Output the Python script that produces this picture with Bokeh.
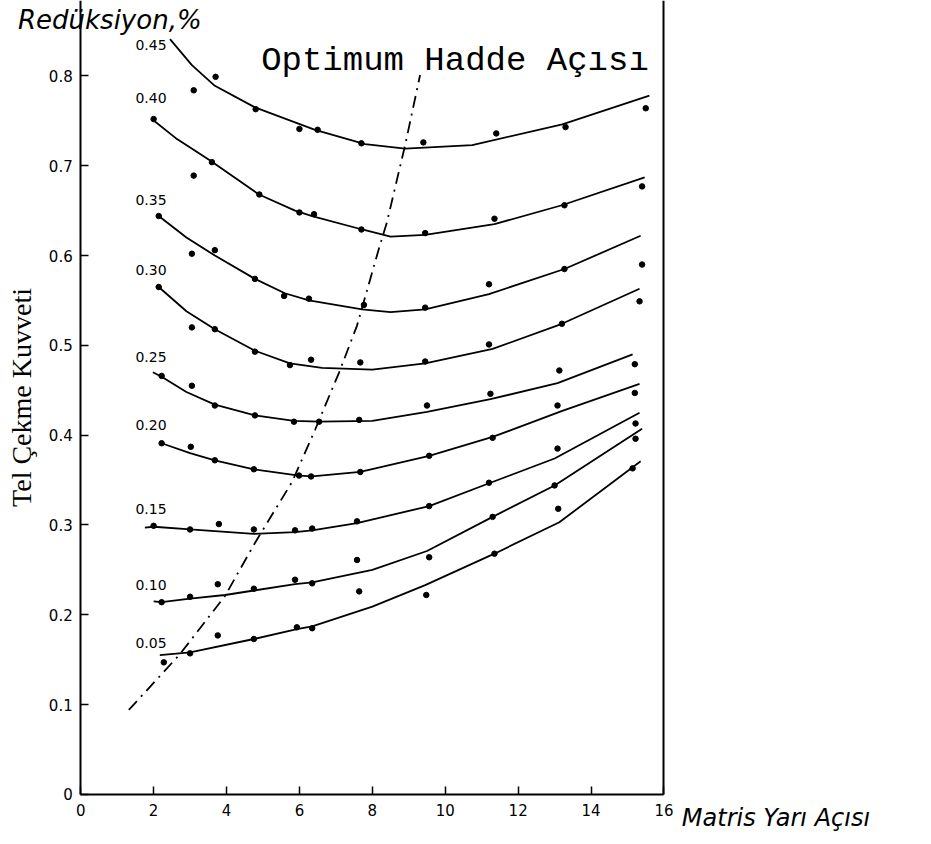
from bokeh.plotting import figure
from bokeh.models import LinearAxis, FixedTicker, Label
from bokeh.embed import file_html
from bokeh.resources import INLINE

# ---------------- data ----------------
reductions = ["0.05", "0.10", "0.15", "0.20", "0.25", "0.30", "0.35", "0.40", "0.45"]

c45_x = [2.45, 3.05, 3.68, 4.78, 6.43, 7.8, 8.9, 10.74, 13.21, 15.6]
c45_y = [0.841, 0.812, 0.789, 0.765, 0.740, 0.724, 0.719, 0.723, 0.746, 0.778]
p45_x = [3.1, 3.7, 4.8, 6.0, 6.5, 7.7, 9.4, 11.4, 13.3, 15.5]
p45_y = [0.784, 0.799, 0.763, 0.741, 0.740, 0.725, 0.726, 0.736, 0.743, 0.764]

c40_x = [1.95, 2.6, 3.54, 4.89, 5.88, 6.35, 7.72, 8.5, 9.45, 11.35, 13.2, 15.47]
c40_y = [0.752, 0.731, 0.706, 0.668, 0.650, 0.644, 0.629, 0.621, 0.623, 0.635, 0.656, 0.687]
p40_x = [2.0, 3.1, 3.6, 4.9, 6.0, 6.4, 7.7, 9.45, 11.35, 13.27, 15.4]
p40_y = [0.752, 0.689, 0.704, 0.668, 0.648, 0.646, 0.629, 0.625, 0.641, 0.656, 0.677]

c35_x = [2.14, 2.9, 3.68, 4.78, 5.6, 6.26, 7.72, 8.5, 9.45, 11.2, 13.27, 15.36]
c35_y = [0.644, 0.620, 0.600, 0.574, 0.558, 0.550, 0.540, 0.537, 0.540, 0.557, 0.585, 0.622]
p35_x = [2.14, 3.05, 3.68, 4.78, 5.58, 6.26, 7.77, 9.45, 11.2, 13.27, 15.4]
p35_y = [0.644, 0.602, 0.606, 0.574, 0.555, 0.552, 0.545, 0.542, 0.568, 0.585, 0.590]

c30_x = [2.14, 2.9, 3.68, 4.78, 5.74, 6.62, 8.0, 9.45, 11.3, 13.2, 15.33]
c30_y = [0.565, 0.538, 0.518, 0.494, 0.480, 0.475, 0.473, 0.480, 0.496, 0.524, 0.563]
p30_x = [2.14, 3.05, 3.68, 4.78, 5.74, 6.32, 7.67, 9.45, 11.2, 13.2, 15.33]
p30_y = [0.565, 0.520, 0.518, 0.493, 0.478, 0.484, 0.481, 0.482, 0.501, 0.524, 0.549]

c25_x = [1.98, 2.22, 2.9, 3.68, 4.78, 5.85, 6.54, 8.0, 9.5, 11.24, 13.08, 15.14]
c25_y = [0.470, 0.465, 0.448, 0.434, 0.422, 0.416, 0.415, 0.416, 0.426, 0.440, 0.458, 0.490]
p25_x = [2.22, 3.05, 3.68, 4.78, 5.85, 6.54, 7.64, 9.5, 11.24, 13.13, 15.2]
p25_y = [0.466, 0.455, 0.433, 0.422, 0.415, 0.415, 0.417, 0.433, 0.446, 0.472, 0.479]

c20_x = [2.22, 3.0, 3.68, 4.75, 5.99, 6.35, 7.67, 9.56, 11.3, 13.21, 15.33]
c20_y = [0.391, 0.380, 0.372, 0.362, 0.355, 0.354, 0.359, 0.377, 0.398, 0.427, 0.457]
p20_x = [2.22, 3.02, 3.68, 4.75, 5.99, 6.32, 7.67, 9.56, 11.3, 13.08, 15.2]
p20_y = [0.391, 0.387, 0.372, 0.362, 0.355, 0.354, 0.359, 0.377, 0.397, 0.433, 0.447]

c15_x = [1.76, 2.0, 3.0, 4.75, 5.88, 6.35, 7.58, 9.56, 11.24, 13.0, 15.33]
c15_y = [0.297, 0.298, 0.295, 0.290, 0.292, 0.294, 0.302, 0.321, 0.347, 0.374, 0.425]
p15_x = [2.0, 3.0, 3.79, 4.75, 5.88, 6.35, 7.58, 9.56, 11.2, 13.08, 15.22]
p15_y = [0.299, 0.295, 0.301, 0.295, 0.294, 0.296, 0.304, 0.321, 0.347, 0.385, 0.413]

c10_x = [2.0, 2.22, 3.0, 3.96, 4.75, 5.88, 6.35, 8.0, 9.5, 11.3, 13.0, 15.4]
c10_y = [0.215, 0.214, 0.218, 0.222, 0.227, 0.234, 0.236, 0.250, 0.271, 0.309, 0.344, 0.407]
p10_x = [2.22, 3.0, 3.76, 4.75, 5.88, 6.35, 7.58, 9.56, 11.3, 13.0, 15.22]
p10_y = [0.214, 0.220, 0.234, 0.229, 0.239, 0.235, 0.261, 0.264, 0.309, 0.344, 0.396]

c05_x = [2.17, 3.0, 4.75, 5.93, 6.35, 8.0, 9.45, 11.35, 13.13, 15.36]
c05_y = [0.155, 0.158, 0.173, 0.184, 0.187, 0.209, 0.233, 0.268, 0.303, 0.371]
p05_x = [2.28, 3.0, 3.76, 4.75, 5.93, 6.35, 7.64, 9.48, 11.35, 13.1, 15.14]
p05_y = [0.147, 0.157, 0.177, 0.173, 0.186, 0.185, 0.226, 0.222, 0.268, 0.318, 0.363]

opt_x = [1.32, 2.72, 3.96, 4.78, 5.8, 6.43, 7.09, 7.58, 8.19, 8.4, 8.9, 9.31]
opt_y = [0.094, 0.156, 0.221, 0.280, 0.348, 0.406, 0.470, 0.522, 0.609, 0.637, 0.723, 0.801]

x_ticks = [0, 2, 4, 6, 8, 10, 12, 14, 16]
y_ticks = [0, 0.1, 0.2, 0.3, 0.4, 0.5, 0.6, 0.7, 0.8]
y_tick_labels = ["0", "0.1", "0.2", "0.3", "0.4", "0.5", "0.6", "0.7", "0.8"]

X_MAX = 16
Y_TOP = 0.884

# ---------------- figure ----------------
p = figure(width=915, height=834, x_range=(-2.2, 22.9), y_range=(-0.0447, Y_TOP),
           min_border=0, min_border_left=0, min_border_right=0,
           min_border_top=0, min_border_bottom=0,
           output_backend="svg", toolbar_location=None,
           background_fill_color="white", border_fill_color="white")
p.title.visible = False
p.outline_line_color = None
p.xgrid.visible = False
p.ygrid.visible = False

for ax in (p.xaxis[0], p.yaxis[0]):
    ax.fixed_location = 0
    ax.axis_line_width = 2
    ax.axis_line_color = "black"
    ax.major_tick_in = 8
    ax.major_tick_out = 0
    ax.major_tick_line_width = 1.5
    ax.major_tick_line_color = "black"
    ax.minor_tick_line_color = None
    ax.major_label_text_font = "DejaVu Sans"
    ax.major_label_text_font_size = "15px"
    ax.major_label_text_color = "black"

p.xaxis.ticker = FixedTicker(ticks=x_ticks)
p.xaxis.bounds = (0, X_MAX)
p.xaxis.major_label_standoff = 10
p.yaxis.ticker = FixedTicker(ticks=y_ticks)
p.yaxis.bounds = (0, Y_TOP)
p.yaxis.major_label_overrides = dict(zip(y_ticks, y_tick_labels))
p.yaxis.major_label_standoff = 8
p.yaxis.axis_label = "Tel Çekme Kuvveti"
p.yaxis.axis_label_text_font = "Liberation Serif"
p.yaxis.axis_label_text_font_style = "normal"
p.yaxis.axis_label_text_font_size = "28px"
p.yaxis.axis_label_text_color = "black"
p.yaxis.axis_label_standoff = 9

right = LinearAxis(fixed_location=X_MAX, bounds=(0, Y_TOP),
                   ticker=FixedTicker(ticks=[]), axis_line_width=2,
                   axis_line_color="black",
                   major_tick_line_color=None, minor_tick_line_color=None,
                   major_label_text_font_size="0px")
p.add_layout(right, "right")

series = [
    ("0.05", c05_x, c05_y, p05_x, p05_y, 0.014),
    ("0.10", c10_x, c10_y, p10_x, p10_y, 0.018),
    ("0.15", c15_x, c15_y, p15_x, p15_y, 0.021),
    ("0.20", c20_x, c20_y, p20_x, p20_y, 0.020),
    ("0.25", c25_x, c25_y, p25_x, p25_y, 0.017),
    ("0.30", c30_x, c30_y, p30_x, p30_y, 0.019),
    ("0.35", c35_x, c35_y, p35_x, p35_y, 0.018),
    ("0.40", c40_x, c40_y, p40_x, p40_y, 0.023),
    ("0.45", c45_x, c45_y, p45_x, p45_y, -0.006),
]
for name, cx, cy, px, py, dy in series:
    p.line(cx, cy, line_color="black", line_width=1.8)
    p.scatter(px, py, size=5.5, color="black")
    p.add_layout(Label(x=1.5, y=cy[0] + dy, text=name, text_font="DejaVu Sans",
                       text_font_size="14px", text_baseline="middle",
                       text_align="left", text_color="black"))

p.line(opt_x, opt_y, line_color="black", line_width=1.8, line_dash="12 6 2 6")

p.add_layout(Label(x=4.95, y=0.817, text="Optimum Hadde Açısı",
                   text_font="Liberation Mono", text_font_size="34px",
                   text_baseline="alphabetic", text_color="black"))
p.add_layout(Label(x=-1.72, y=0.862, text="Redüksiyon,%", text_font="DejaVu Sans",
                   text_font_style="italic", text_font_size="26px",
                   text_baseline="alphabetic", text_color="black"))
p.add_layout(Label(x=16.49, y=-0.026, text="Matris Yarı Açısı", text_font="DejaVu Sans",
                   text_font_style="italic", text_font_size="24px",
                   text_baseline="alphabetic", text_color="black"))

open("out.html", "w").write(file_html(p, INLINE))
